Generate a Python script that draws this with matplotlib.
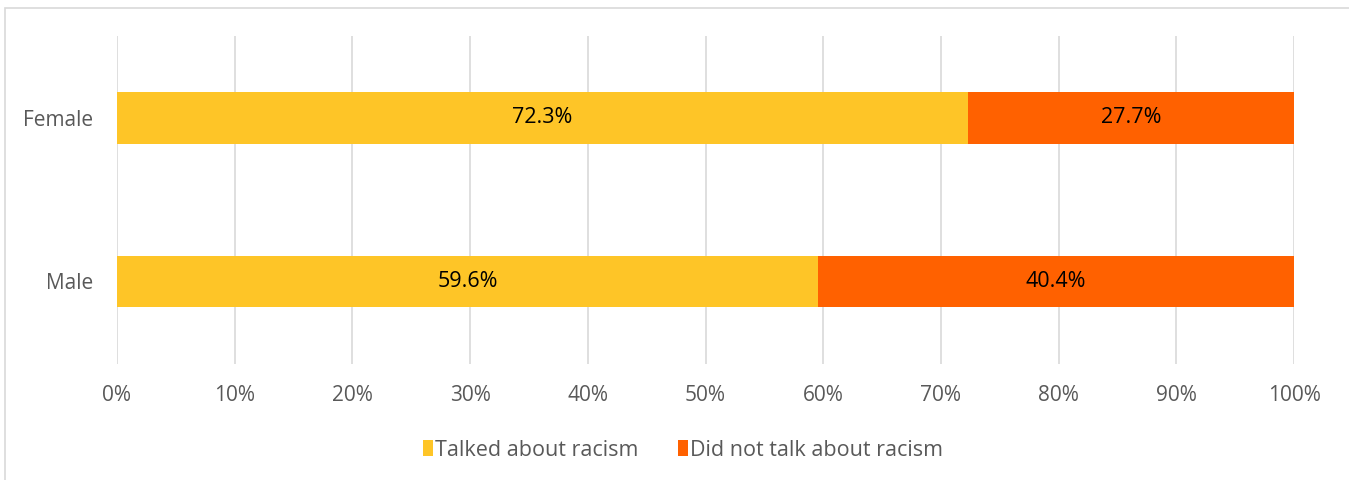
import matplotlib.pyplot as plt
from matplotlib.patches import Rectangle

plt.rcParams['font.family'] = ['Open Sans', 'DejaVu Sans']

groups = ['Male', 'Female']
talked = [59.6, 72.3]
not_talked = [40.4, 27.7]
series_names = ['Talked about racism', 'Did not talk about racism']
colors = ['#FEC527', '#FF6100']
ticks = list(range(0, 101, 10))

fig = plt.figure(figsize=(13.49, 4.8), dpi=100)
# chart frame
fig.patches.append(Rectangle((5 / 1349, -0.01), 1.0, 1 - 8 / 480 + 0.01,
                             transform=fig.transFigure, fill=False,
                             edgecolor='#D9D9D9', linewidth=1.2))

ax = fig.add_axes([117 / 1349, 1 - 364 / 480, (1294 - 117) / 1349, (364 - 36) / 480])
y = list(range(len(groups)))
b1 = ax.barh(y, talked, height=0.313, color=colors[0], label=series_names[0], zorder=3)
b2 = ax.barh(y, not_talked, left=talked, height=0.313, color=colors[1],
             label=series_names[1], zorder=3)

for bars, vals in ((b1, talked), (b2, not_talked)):
    ax.bar_label(bars, labels=[f'{v:.1f}%' for v in vals], label_type='center',
                 fontsize=15.5, color='black')

ax.set_xlim(0, 100)
ax.set_ylim(-0.509, 1.503)
ax.set_xticks(ticks)
ax.set_xticklabels([f'{t}%' for t in ticks])
ax.set_yticks(y)
ax.set_yticklabels(groups)
ax.tick_params(axis='both', length=0, labelsize=15, labelcolor='#595959')
ax.tick_params(axis='x', pad=15)
ax.tick_params(axis='y', pad=17)
ax.xaxis.grid(True, color='#D9D9D9', linewidth=1.2, zorder=0)
for s in ax.spines.values():
    s.set_visible(False)

fig.legend(loc='center', bbox_to_anchor=(683 / 1349, 1 - 450 / 480), ncol=2,
           frameon=False, fontsize=15.5, handlelength=0.5, handleheight=0.8,
           handletextpad=0.1, columnspacing=1.8, labelcolor='#595959')

fig.savefig('out.png', dpi=100)
